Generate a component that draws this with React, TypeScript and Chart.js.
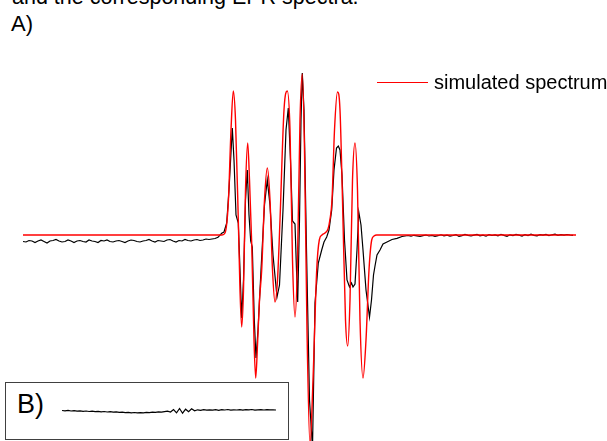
import React, { useEffect, useRef } from "react";
import { Chart, registerables } from "chart.js";

Chart.register(...registerables);

// ---- A) simulated spectrum: [field (a.u.), intensity (a.u.)] ----
const simFields = [
  23, 222, 225, 228.3, 231, 233.3, 235.5, 238.3, 240, 241.7, 243.5, 245.5, 247.7, 249.5, 251.7,
  254, 255.7, 257.5, 259.5, 261.7, 264.5, 267.3, 270, 272.5, 275, 277.5, 280, 284, 287.3, 290,
  292.5, 295, 297.5, 300, 302.3, 304.5, 307, 310, 313, 316.7, 319.3, 322, 325, 328, 330, 332,
  334.5, 337.5, 340, 342.5, 345.5, 347.7, 350, 352.5, 355, 357.5, 360, 363, 366, 369, 371.7,
  374, 376.7, 576,
];
const simValues = [
  0, 0, 2, 32, 105, 144, 115, 15, -55, -92, -55, 45, 92, 55, -8,
  -105, -143, -110, -65, -35, 35, 67, 35, -35, -67, -45, 15, 125, 144, 105,
  -25, -82, -25, 115, 161, 85, -95, -210, -145, -35, -5, 0, 2, 6, 16, 35,
  105, 143, 125, 35, -85, -111, -65, 55, 92, 45, -85, -143, -105, -35, -5,
  -1, 0, 0,
];

// ---- A) experimental spectrum ----
// low-field baseline (uniform sweep starting at field 23, step 3)
const expLeftStart = 23;
const expStep = 3;
const expLeftBaseline = [
  -6.5, -7, -5.5, -6, -7.5, -6, -5, -6.5, -8, -6,
  -5.5, -4.5, -6, -7, -6.5, -5, -6, -7.5, -6, -5.5,
  -6.5, -7, -5, -6, -6.5, -7.5, -5.5, -6, -5, -6.5,
  -7, -6, -5.5, -6.5, -7.5, -6, -5, -5.5, -6.5, -7,
  -6, -5.5, -4.5, -6, -7, -5.5, -6, -6.5, -5, -4.5,
  -6, -7, -5.5, -6, -4.5, -5.5, -6, -5, -4.5, -5.5,
  -5, -4, -4.5, -4, -3.5,
];
// signal region
const expFields = [
  218, 221.7, 224, 226.7, 229, 232.3, 234, 236, 238.3, 240, 241.7, 243.5, 245.5, 247.3, 249,
  250.7, 252.3, 254.3, 256, 258, 261, 264.5, 267.3, 270, 273, 277, 279.5, 283, 286, 288.3,
  290.5, 292.5, 295, 296.5, 297.7, 299.5, 301, 302.3, 304, 306.5, 309.5, 312.5, 315, 318.3,
  321.7, 324, 326.7, 329, 331.7, 334, 336.5, 338.3, 340, 342, 344.5, 347, 349.5, 351.5, 353,
  355, 357, 358.8, 361, 363, 366, 369.5, 371.5, 373.5, 375, 377, 380, 383, 387, 392, 397, 402,
];
const expValues = [
  -2.3, 1.7, 3, 12, 45, 107, 75, 20, 12, -35, -83, -45, 35, 65, 20,
  -6, -12, -85, -123, -95, -35, 30, 55, 30, -20, -62, -50, 25, 105, 127,
  75, 14, 11, -35, -67, 15, 115, 162, 125, -15, -165, -213, -68, -28,
  -15, -7, -2, 5, 25, 65, 87, 89, 85, 60, -5, -45, -52, -48, -52,
  -49, -15, 23, 10, -15, -55, -82, -65, -40, -31, -20, -15, -9, -7, -4.5, -3.3, -1.5,
];
// high-field baseline (uniform sweep starting at field 405, step 3)
const expRightStart = 405;
const expRightBaseline = [
  -1, -0.5, -1.2, -0.3, -0.8, -1.5, -0.6, 0, -1, -0.4,
  -1.3, -0.7, 0.2, -0.9, -0.2, -1.1, -0.5, 0.3, -1.4, -0.6,
  0.5, -0.3, -1, -0.2, 0.6, -0.8, -0.1, -1.2, 0.4, -0.5,
  0.1, -0.9, 0.7, -0.4, -1.3, 0.2, -0.6, 0.5, -0.2, -1,
  0.3, -0.5, 0.8, -0.3, -0.9, 0.4, -0.1, 0.6, -0.7, 0.2,
  0.9, -0.4, 0.3, -0.2, 0.5, 0, -0.3,
];

// ---- B) control spectrum (uniform sweep) ----
const ctrlValues = [
  0.5, 0.2, 0.6, 0, 0.3, -0.2, 0.1, -0.3, 0, -0.5,
  -0.2, -0.6, -0.3, -0.8, -0.5, -1, -0.7, -1.2, -0.9, -1.4,
  -1.1, -1.6, -1.3, -1.8, -1.5, -1.9, -1.6, -1.8, -1.4, -1.6,
  -1.2, -1.4, -0.9, -1.1, -0.6, -0.2, -1, 1.5, -1.8, 2.5,
  -2.2, 1.8, -0.8, 2.2, 0.2, 1.2, 0.6, 1.4, 0.8, 1.2,
  0.9, 1.4, 0.7, 1.3, 1.0, 1.5, 0.8, 1.2, 1.0, 1.4,
  0.9, 1.3, 1.1, 1.5, 0.9, 1.2, 1.4, 1.0, 1.3, 1.1,
  1.2, 1.0,
];

const LABEL_SIM = "simulated spectrum";
const FONT = '"Liberation Sans", Arial, Helvetica, sans-serif';

function buildExp() {
  const pts: { x: number; y: number }[] = [];
  expLeftBaseline.forEach((v, i) => pts.push({ x: expLeftStart + i * expStep, y: v }));
  expFields.forEach((f, i) => pts.push({ x: f, y: expValues[i] }));
  expRightBaseline.forEach((v, i) => pts.push({ x: expRightStart + i * expStep, y: v }));
  return pts;
}

function MainChart() {
  const ref = useRef<HTMLCanvasElement | null>(null);
  useEffect(() => {
    if (!ref.current) return;
    const chart = new Chart(ref.current, {
      type: "line",
      data: {
        datasets: [
          {
            label: "experimental",
            data: buildExp(),
            borderColor: "#000000",
            borderWidth: 1.2,
            pointRadius: 0,
            tension: 0,
            order: 2,
          },
          {
            label: LABEL_SIM,
            data: simFields.map((f, i) => ({ x: f, y: simValues[i] })),
            borderColor: "#ff0000",
            borderWidth: 1.4,
            pointRadius: 0,
            cubicInterpolationMode: "monotone",
            order: 1,
          },
        ],
      },
      options: {
        animation: false,
        responsive: false,
        layout: { padding: 0 },
        plugins: { legend: { display: false }, tooltip: { enabled: false } },
        scales: {
          x: { type: "linear", min: 0, max: 607, display: false },
          y: { type: "linear", min: -206, max: 235, display: false },
        },
      },
    });
    return () => chart.destroy();
  }, []);
  return (
    <canvas
      ref={ref}
      width={607}
      height={441}
      style={{ position: "absolute", left: 0, top: 0, width: 607, height: 441 }}
    />
  );
}

function InsetChart() {
  const ref = useRef<HTMLCanvasElement | null>(null);
  useEffect(() => {
    if (!ref.current) return;
    const chart = new Chart(ref.current, {
      type: "line",
      data: {
        datasets: [
          {
            label: "control",
            data: ctrlValues.map((v, i) => ({ x: i, y: v })),
            borderColor: "#000000",
            borderWidth: 1.2,
            pointRadius: 0,
            tension: 0,
          },
        ],
      },
      options: {
        animation: false,
        responsive: false,
        layout: { padding: 0 },
        plugins: { legend: { display: false }, tooltip: { enabled: false } },
        scales: {
          x: { type: "linear", min: 0, max: ctrlValues.length - 1, display: false },
          y: { type: "linear", min: -28, max: 28, display: false },
        },
      },
    });
    return () => chart.destroy();
  }, []);
  return (
    <canvas
      ref={ref}
      width={214}
      height={56}
      style={{ position: "absolute", left: 56, top: 0, width: 214, height: 56 }}
    />
  );
}

export default function App() {
  return (
    <div
      style={{
        position: "fixed",
        left: 0,
        top: 0,
        width: 607,
        height: 441,
        overflow: "hidden",
        background: "#ffffff",
        fontFamily: FONT,
        color: "#000",
      }}
    >
      <div
        style={{
          position: "absolute",
          left: 12,
          top: -13,
          fontSize: 21.5,
          lineHeight: 1,
          whiteSpace: "nowrap",
        }}
      >
        and the corresponding EPR spectra.
      </div>
      <div style={{ position: "absolute", left: 11, top: 13, fontSize: 22, lineHeight: 1 }}>A)</div>
      <MainChart />
      <div
        style={{
          position: "absolute",
          left: 377,
          top: 81.5,
          width: 51,
          height: 0,
          borderTop: "1px solid #ff0000",
        }}
      />
      <div
        style={{
          position: "absolute",
          left: 434,
          top: 72,
          fontSize: 20,
          lineHeight: 1,
          whiteSpace: "nowrap",
        }}
      >
        {LABEL_SIM}
      </div>
      <div
        style={{
          position: "absolute",
          left: 5,
          top: 382,
          width: 284,
          height: 58,
          boxSizing: "border-box",
          border: "1px solid #404040",
          background: "#ffffff",
        }}
      >
        <div style={{ position: "absolute", left: 11, top: 8, fontSize: 27, lineHeight: 1 }}>B)</div>
        <InsetChart />
      </div>
    </div>
  );
}
